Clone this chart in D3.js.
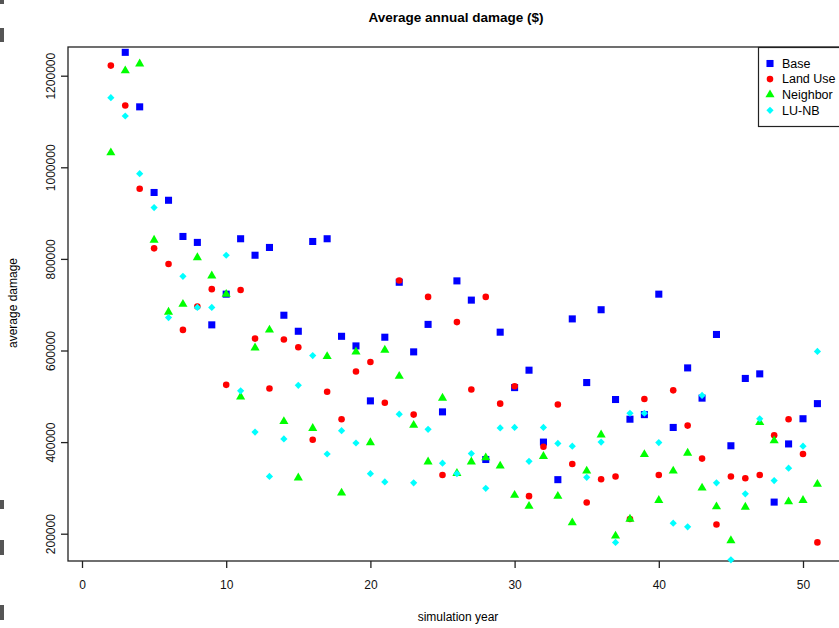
<!DOCTYPE html>
<html><head><meta charset="utf-8">
<script src="https://cdn.jsdelivr.net/npm/d3@7"></script>
<style>body{margin:0;background:#fff;overflow:hidden}svg{display:block}</style>
</head><body>
<svg id="chart" width="839" height="628"></svg>
<script>
const years = d3.range(2, 52);
const base = [null,1251000,1132000,945000,928000,849000,836000,656000,723000,844000,808000,825000,677000,642000,838000,844000,631000,610000,490000,629000,749000,597000,657000,466000,752000,710000,362000,640000,519000,557000,400000,318000,669000,530000,689000,493000,450000,460000,723000,432000,562000,496000,635000,392000,539000,549000,269000,396000,451000,484000];
const landUse = [1222000,1135000,953000,823000,789000,645000,696000,734000,525000,732000,626000,517000,624000,607000,405000,510000,450000,554000,575000,486000,753000,460000,717000,328000,662000,515000,717000,484000,522000,282000,390000,482000,352000,268000,319000,325000,232000,494000,328000,513000,436000,364000,220000,325000,321000,328000,415000,450000,374000,181000];
const neighbor = [1032000,1211000,1226000,841000,684000,701000,803000,763000,723000,499000,606000,645000,445000,322000,430000,587000,289000,597000,399000,601000,544000,437000,357000,496000,332000,357000,366000,348000,284000,260000,369000,282000,224000,337000,416000,195000,232000,373000,273000,337000,376000,300000,259000,185000,258000,443000,403000,270000,273000,308000];
const luNb = [1152000,1112000,986000,912000,672000,762000,694000,694000,808000,512000,422000,325000,407000,524000,589000,374000,425000,398000,331000,313000,461000,311000,428000,354000,331000,375000,299000,431000,432000,358000,432000,397000,391000,323000,400000,181000,463000,463000,399000,223000,215000,502000,311000,143000,287000,451000,316000,343000,391000,598000];
const xTicks = [0,10,20,30,40,50];
const yTicks = [200000,400000,600000,800000,1000000,1200000];
const seriesNames = ["Base","Land Use","Neighbor","LU-NB"];
const seriesColors = ["#0000ff","#ff0000","#00ff00","#00ffff"];

const svg = d3.select("#chart");
const L = 68, T = 47, B = 561, R = 860;
const x = d3.scaleLinear().domain([0,50]).range([82,803]);
const y = d3.scaleLinear().domain([200000,1200000]).range([533.7,75.7]);

// edge marks present in the reference crop
[[0,4],[28,14],[500,9],[540,15],[605,15]].forEach(([yy,h])=>{
  svg.append("rect").attr("x",0).attr("y",yy).attr("width",4).attr("height",h).attr("fill","#555");
});

// plot box
svg.append("rect").attr("x",L).attr("y",T).attr("width",R-L).attr("height",B-T)
  .attr("fill","none").attr("stroke","#222").attr("stroke-width",1.3);

// axes
const xAxis = svg.append("g").attr("transform",`translate(0,${B})`)
  .call(d3.axisBottom(x).tickValues(xTicks).tickSize(7).tickPadding(12).tickFormat(d3.format("d")));
xAxis.select(".domain").remove();
xAxis.selectAll("line").attr("stroke","#222").attr("stroke-width",1.3);
xAxis.selectAll("text").attr("font-family","Liberation Sans, Arial, sans-serif").attr("font-size",12).attr("fill","#111");

const yAxis = svg.append("g").attr("transform",`translate(${L},0)`)
  .call(d3.axisLeft(y).tickValues(yTicks).tickSize(7).tickFormat(d3.format("d")));
yAxis.select(".domain").remove();
yAxis.selectAll("line").attr("stroke","#222").attr("stroke-width",1.3);
yAxis.selectAll("text").remove();
yAxis.selectAll(".tick").append("text")
  .attr("transform","translate(-17,0) rotate(-90)")
  .attr("text-anchor","middle").attr("dy","0.35em")
  .attr("font-family","Liberation Sans, Arial, sans-serif").attr("font-size",12).attr("fill","#111")
  .text(d => d3.format("d")(d));

// labels
svg.append("text").attr("x",456).attr("y",22).attr("text-anchor","middle")
  .attr("font-family","Liberation Sans, Arial, sans-serif").attr("font-weight","bold").attr("font-size",13.5)
  .text("Average annual damage ($)");
svg.append("text").attr("x",458).attr("y",621).attr("text-anchor","middle")
  .attr("font-family","Liberation Sans, Arial, sans-serif").attr("font-size",12)
  .text("simulation year");
svg.append("text").attr("transform","translate(17,303) rotate(-90)").attr("text-anchor","middle")
  .attr("font-family","Liberation Sans, Arial, sans-serif").attr("font-size",12)
  .text("average damage");

const g = svg.append("g");
const sqr = d3.symbol().type(d3.symbolSquare).size(50);
const cir = d3.symbol().type(d3.symbolCircle).size(34);
const tri = d3.symbol().type(d3.symbolTriangle).size(36);
const diaType = { draw(ctx, size) { const r = Math.sqrt(size/2); ctx.moveTo(0,-r); ctx.lineTo(r,0); ctx.lineTo(0,r); ctx.lineTo(-r,0); ctx.closePath(); } };
const dia = d3.symbol().type(diaType).size(26);
const symbols = [sqr,cir,tri,dia];
const data = [base,landUse,neighbor,luNb];
data.forEach((arr,i)=>{
  g.selectAll(null).data(years.map((yr,j)=>({yr,v:arr[j]})).filter(d=>d.v!=null))
   .enter().append("path")
   .attr("d",symbols[i]())
   .attr("transform",d=>`translate(${x(d.yr)},${y(d.v)})`)
   .attr("fill",seriesColors[i]);
});

// legend
const lg = svg.append("g");
lg.append("rect").attr("x",758.5).attr("y",47.5).attr("width",120).attr("height",79)
  .attr("fill","#fff").attr("stroke","#222").attr("stroke-width",1.2);
seriesNames.forEach((n,i)=>{
  const yy = 63.5 + i*15.6;
  lg.append("path").attr("d",symbols[i]()).attr("transform",`translate(770,${yy})`).attr("fill",seriesColors[i]);
  lg.append("text").attr("x",782).attr("y",yy).attr("dy","0.35em")
    .attr("font-family","Liberation Sans, Arial, sans-serif").attr("font-size",12.5).text(n);
});
</script>
</body></html>
